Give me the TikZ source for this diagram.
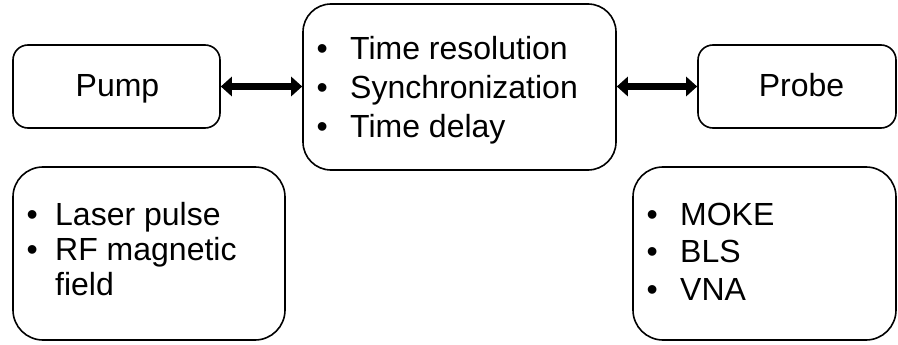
\documentclass[tikz,border=0pt]{standalone}
\usepackage{fontspec}
\setmainfont{Liberation Sans}
\usetikzlibrary{arrows.meta}
\tikzset{
  box/.style={draw, line width=1.6pt, rounded corners=#1, inner sep=0pt},
  box/.default=15pt,
  item/.style={anchor=base west, inner sep=0pt, font=\fontsize{32}{38}\selectfont},
  label/.style={anchor=base, inner sep=0pt, font=\fontsize{32}{38}\selectfont},
  dblarrow/.style={line width=7pt, {Triangle[length=11pt,width=19pt]}-{Triangle[length=11pt,width=19pt]}}
}
\newcommand{\bul}[1]{\makebox[#1][l]{•}}
\begin{document}
\begin{tikzpicture}[x=1pt,y=-1pt]
\useasboundingbox (0,0) rectangle (898,345);
% boxes
\node[box=15pt, minimum width=207pt, minimum height=83pt] (pump) at (116.5,86.5) {};
\node[box=28pt, minimum width=313pt, minimum height=166pt] (center) at (459.5,87) {};
\node[box=15pt, minimum width=198pt, minimum height=83pt] (probe) at (797,86.5) {};
\node[box=30pt, minimum width=272pt, minimum height=173pt] (bl) at (149,253.5) {};
\node[box=30pt, minimum width=263pt, minimum height=173pt] (br) at (764.5,253.5) {};
% labels
\node[label] (pumpt) at (117.5,97) {Pump};
\node[label] (probet) at (801.5,97) {Probe};
\node[item] (c1) at (316.4,60) {\bul{33.6pt}Time resolution};
\node[item] (c2) at (316.4,99) {\bul{33.6pt}Synchronization};
\node[item] (c3) at (316.4,137) {\bul{33.6pt}Time delay};
\node[item] (l1) at (26.4,225) {\bul{28.6pt}Laser pulse};
\node[item] (l2) at (26.4,260) {\bul{28.6pt}RF magnetic};
\node[item] (l3) at (26.4,295) {\makebox[28.6pt][l]{}field};
\node[item] (r1) at (646.4,225) {\bul{33.6pt}MOKE};
\node[item] (r2) at (646.4,262) {\bul{33.6pt}BLS};
\node[item] (r3) at (646.4,300) {\bul{33.6pt}VNA};
% arrows
\draw[dblarrow] (pump.east) -- (pump.east -| center.west);
\draw[dblarrow] (probe.west -| center.east) -- (probe.west);
\end{tikzpicture}
\end{document}
